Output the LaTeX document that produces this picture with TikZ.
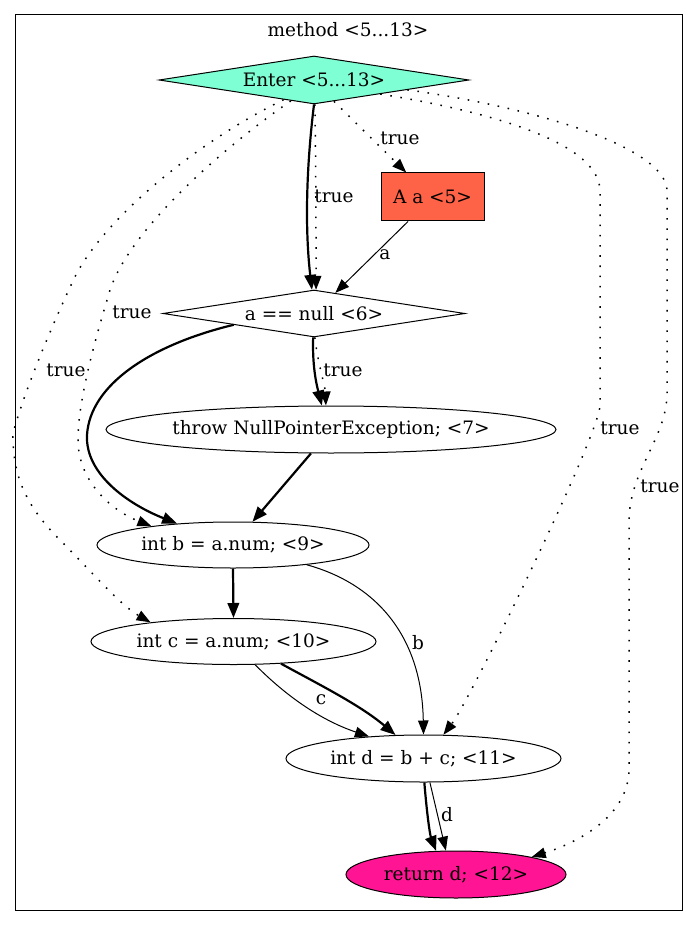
\documentclass[tikz,border=0pt]{standalone}
\usepackage{fontspec}
\setmainfont{DejaVu Serif}
\usetikzlibrary{shapes.geometric,arrows.meta}
\definecolor{aquam}{HTML}{7FFFD4}
\definecolor{tomatoc}{HTML}{FF6347}
\definecolor{dpink}{HTML}{FF1493}
\begin{document}
\begin{tikzpicture}[x=1pt,y=-1pt,
  every node/.style={font=\fontsize{18.5}{20}\selectfont, inner sep=0pt},
  dnode/.style={diamond, draw, line width=1pt, aspect=6.4},
  enode/.style={ellipse, draw, line width=1pt},
  rnode/.style={rectangle, draw, line width=1pt},
  arr/.style={-{Triangle[length=14pt,width=10.5pt]}},
  thinedge/.style={arr, line width=1pt},
  boldedge/.style={-{Triangle[length=15pt,width=11.5pt]}, line width=2.2pt},
  dotedge/.style={arr, line width=1.5pt, dash pattern=on 1.6pt off 8.6pt},
  lbl/.style={fill=none}]
\useasboundingbox (0,0) rectangle (697,925);
\draw[line width=1pt] (15,15) rectangle (682,910);
\node[lbl] (title) at (348,30) {method <5...13>};

\node[dnode, fill=aquam, minimum width=310, minimum height=48] (enter) at (314,80) {Enter <5...13>};
\node[rnode, fill=tomatoc, minimum width=103, minimum height=48] (aa) at (432.5,197) {A a <5>};
\node[dnode, minimum width=302, minimum height=47] (anull) at (314,313.5) {a == null <6>};
\node[enode, minimum width=450, minimum height=47] (thr) at (331,429.5) {throw NullPointerException; <7>};
\node[enode, minimum width=272, minimum height=46] (ib) at (233,545) {int b = a.num; <9>};
\node[enode, minimum width=285, minimum height=46] (ic) at (233.5,641.5) {int c = a.num; <10>};
\node[enode, minimum width=275, minimum height=47] (id) at (423.5,758.5) {int d = b + c; <11>};
\node[enode, fill=dpink, minimum width=220, minimum height=47] (ret) at (456,874.5) {return d; <12>};

% Enter -> a==null
\draw[boldedge] (enter.south) .. controls (306,170) and (305,230) .. (anull.95);
\draw[dotedge] (enter.272) .. controls (316,170) and (316,230) .. (anull.85);
\node[lbl] (l1) at (334,196) {true};
% Enter -> A a
\draw[dotedge] (enter.-47) -- (aa.137);
\node[lbl] (l2) at (400,138) {true};
% A a -> a==null
\draw[thinedge] (aa.-135) -- (anull.44);
\node[lbl] (l3) at (385,255) {a};
% Enter -> int b
\draw[dotedge] (enter.222) .. controls (220,150) and (130,230) .. (110,290)
  .. controls (95,340) and (78,400) .. (78,440)
  .. controls (78,480) and (110,510) .. (ib.167);
\node[lbl] (l4) at (132,312) {true};
% Enter -> int c
\draw[dotedge] (enter.213) .. controls (200,140) and (100,220) .. (72,283)
  .. controls (50,330) and (25,390) .. (13,433)
  .. controls (12,480) and (30,510) .. (60,540)
  .. controls (90,570) and (120,605) .. (ic.167);
\node[lbl] (l5) at (66,370) {true};
% Enter -> int d
\draw[dotedge] (enter.-12) .. controls (480,110) and (598,140) .. (600,190)
  -- (600,406) .. controls (597,440) and (470,700) .. (id.50);
\node[lbl] (l6) at (620,428) {true};
% Enter -> return
\draw[dotedge] (enter.-6) .. controls (550,110) and (665,150) .. (667,190)
  -- (667,396) .. controls (665,440) and (630,470) .. (629,520)
  -- (629,770) .. controls (628,820) and (570,845) .. (ret.13);
\node[lbl] (l7) at (660,486) {true};
% a==null -> throw
\draw[boldedge] (anull.268) .. controls (312,370) and (318,390) .. (thr.111);
\draw[dotedge] (anull.272) .. controls (318,365) and (325,385) .. (thr.102);
\node[lbl] (l8) at (343,370) {true};
% a==null -> int b
\draw[boldedge] (anull.188) .. controls (150,345) and (90,385) .. (87,435)
  .. controls (85,475) and (130,505) .. (ib.159);
% throw -> int b
\draw[boldedge] (thr.230) -- (ib.50);
% int b -> int c
\draw[boldedge] (ib.south) -- (ic.north);
% int b -> int d
\draw[thinedge] (ib.-15) .. controls (380,585) and (422,640) .. (id.north);
\node[lbl] (l9) at (418,643) {b};
% int c -> int d
\draw[boldedge] (ic.-25) .. controls (320,685) and (360,705) .. (id.140);
\draw[thinedge] (ic.-47) .. controls (285,695) and (320,720) .. (id.158);
\node[lbl] (l10) at (321,700) {c};
% int d -> return
\draw[boldedge] (id.-88) .. controls (427,815) and (430,835) .. (ret.130);
\draw[thinedge] (id.-75) -- (ret.113);
\node[lbl] (l11) at (447,815) {d};
\end{tikzpicture}
\end{document}
